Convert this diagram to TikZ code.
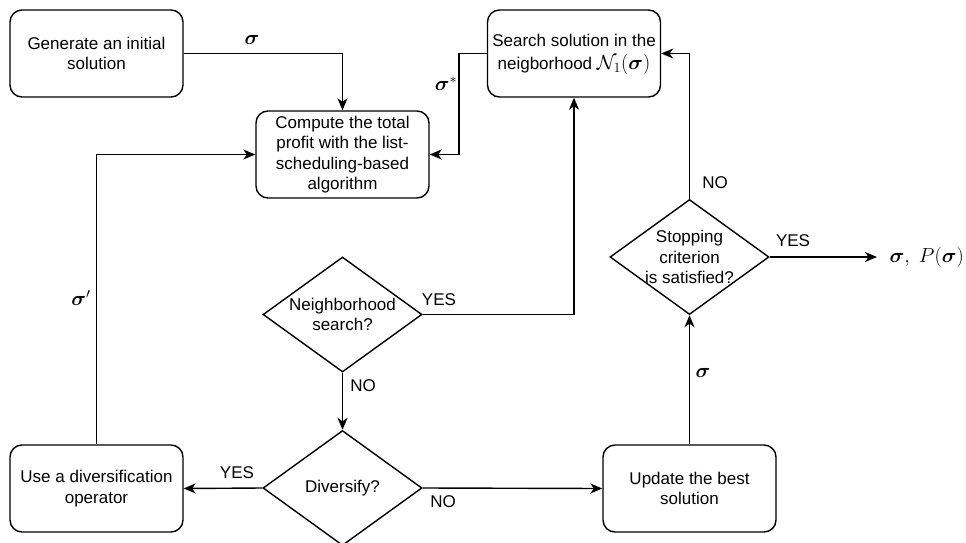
\documentclass[tikz,border=0pt]{standalone}
\usepackage{amsmath,amssymb,graphicx}
\usepackage{fontspec}
\setmainfont{Liberation Sans}
\usetikzlibrary{shapes.geometric,arrows.meta}
\newcommand{\mth}[1]{\scalebox{1.18}{$#1$}}
\begin{document}
\begin{tikzpicture}[x=1pt,y=-1pt,
  font=\fontsize{17}{20.5}\selectfont,
  line width=1.4pt,
  proc/.style={draw, rounded corners=12pt, minimum width=173pt, minimum height=87pt, align=center, inner sep=0pt},
  dec/.style={draw, diamond, minimum width=159pt, minimum height=115pt, inner sep=0pt},
  dtext/.style={align=center, inner sep=0pt},
  arr/.style={-{Stealth[length=12pt,width=10pt,inset=3.5pt]}},
  lbl/.style={inner sep=0pt}]
\useasboundingbox (0,0) rectangle (966,543);
\fill[white] (0,0) rectangle (966,543);

\node[proc] (gen) at (96.5,53.5) {Generate an initial\\solution};
\node[proc] (comp) at (342.5,154.5) {Compute the total\\profit with the list-\\scheduling-based\\algorithm};
\node[proc] (search) at (574,53.5) {Search solution in the\\[3pt]neigborhood \smash{\mth{\mathcal{N}_1(\boldsymbol{\sigma})}}};
\node[dec] (ns) at (342.5,314.5) {};
\node[dtext] (nst) at (342.5,314.5) {Neighborhood\\search?};
\node[dec] (dv) at (342.5,488) {};
\node[dtext] (dvt) at (342.5,488) {Diversify?};
\node[proc] (use) at (96.5,488.5) {Use a diversification\\operator};
\node[proc] (upd) at (689.5,488.5) {Update the best\\solution};
\node[dec] (st) at (689.5,257) {};
\node[dtext] (stt) at (689.5,257) {Stopping\\criterion\\is satisfied?};
\node[anchor=west, inner sep=0pt] (out) at (889,257) {\mth{\boldsymbol{\sigma},\ P(\boldsymbol{\sigma})}};
\coordinate (k1) at (459,53.5);
\coordinate (oe) at (877,257);

\draw[arr] (gen.east) -| (comp.north);
\draw[arr] (search.west) -- (k1) |- (comp.east);
\draw[arr] (ns.east) -| (search.south);
\draw[arr] (ns.south) -- (dv.north);
\draw[arr] (dv.west) -- (use.east);
\draw[arr] (dv.east) -- (upd.west);
\draw[arr] (use.north) |- (comp.west);
\draw[arr] (upd.north) -- (st.south);
\draw[arr] (st.north) |- (search.east);
\draw[arr] (st.east) -- (oe);

\node[lbl] (l1) at (252,40) {\mth{\boldsymbol{\sigma}}};
\node[lbl] (l2) at (446,84) {\mth{\boldsymbol{\sigma}^*}};
\node[lbl] (l3) at (81,298) {\mth{\boldsymbol{\sigma}'}};
\node[lbl] (l4) at (703,373) {\mth{\boldsymbol{\sigma}}};
\node[lbl] (y1) at (439,300) {YES};
\node[lbl] (n1) at (363,386) {NO};
\node[lbl] (y2) at (237,473) {YES};
\node[lbl] (n2) at (443,502) {NO};
\node[lbl] (n3) at (715,183) {NO};
\node[lbl] (y3) at (793,241) {YES};
\end{tikzpicture}
\end{document}
